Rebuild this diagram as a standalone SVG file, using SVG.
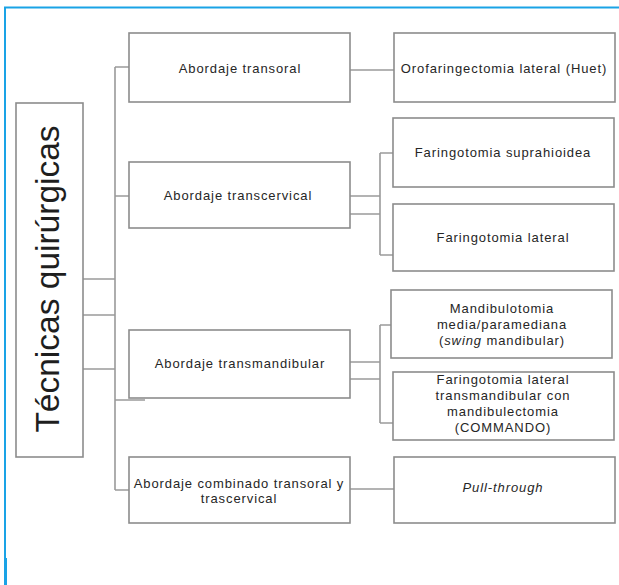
<svg xmlns="http://www.w3.org/2000/svg" width="619" height="585" viewBox="0 0 619 585">
<style>
.box{fill:#fff;stroke:#8c8c8c;stroke-width:1.6}
.ln{stroke:#9a9a9a;stroke-width:1.6;fill:none}
.t{font-family:"Liberation Sans",Arial,sans-serif;font-size:13px;letter-spacing:0.9px;fill:#262626;text-anchor:middle}
.it{font-style:italic}
</style>
<rect width="619" height="585" fill="#fff"/>
<g id="frame">
<line x1="4" y1="7.5" x2="619" y2="7.5" stroke="#1aa3e6" stroke-width="2"/>
<line x1="5" y1="7" x2="5" y2="585" stroke="#1aa3e6" stroke-width="2"/>
<rect x="4" y="558" width="3" height="27" fill="#1aa3e6"/>
</g>
<g id="connectors">
<path class="ln" d="M115,67V490M115,67H129M115,196H129M115,400H145M115,490H129M83,279H115M83,315H115M83,369H115"/>
<path class="ln" d="M350,70H394"/>
<path class="ln" d="M350,196H380M350,214H380M380,153V255M380,153H393M380,255H393"/>
<path class="ln" d="M350,362H380M350,379H380M380,325V423M380,325H391M380,423H393"/>
<path class="ln" d="M350,489H394"/>
</g>
<g id="n-main">
<rect class="box" x="16" y="103" width="67" height="354"/>
<text transform="translate(59,279) rotate(-90)" font-family="Liberation Sans,Arial,sans-serif" font-size="33.5" fill="#1e1e1e" text-anchor="middle">Técnicas quirúrgicas</text>
</g>
<g id="n-transoral">
<rect class="box" x="129" y="33" width="221" height="69"/>
<text class="t" x="240" y="73">Abordaje transoral</text>
</g>
<g id="n-huet">
<rect class="box" x="394" y="33" width="221" height="69"/>
<text class="t" x="504" y="73" letter-spacing="1.1">Orofaringectomia lateral (Huet)</text>
</g>
<g id="n-transcervical">
<rect class="box" x="129" y="162" width="221" height="66"/>
<text class="t" x="238" y="200">Abordaje transcervical</text>
</g>
<g id="n-suprahioidea">
<rect class="box" x="393" y="118" width="221" height="69"/>
<text class="t" x="503" y="157">Faringotomia suprahioidea</text>
</g>
<g id="n-lateral">
<rect class="box" x="393" y="204" width="221" height="67"/>
<text class="t" x="503" y="242">Faringotomia lateral</text>
</g>
<g id="n-transmandibular">
<rect class="box" x="129" y="330" width="221" height="68"/>
<text class="t" x="240" y="368">Abordaje transmandibular</text>
</g>
<g id="n-mandibulotomia">
<rect class="box" x="391" y="290" width="221" height="68"/>
<text class="t" x="502" y="313">Mandibulotomia</text>
<text class="t" x="502" y="329">media/paramediana</text>
<text class="t" x="502" y="345">(<tspan class="it">swing</tspan> mandibular)</text>
</g>
<g id="n-commando">
<rect class="box" x="393" y="372" width="221" height="68"/>
<text class="t" x="503" y="384">Faringotomia lateral</text>
<text class="t" x="503" y="400">transmandibular con</text>
<text class="t" x="503" y="416">mandibulectomia</text>
<text class="t" x="503" y="432">(COMMANDO)</text>
</g>
<g id="n-combinado">
<rect class="box" x="129" y="457" width="221" height="66"/>
<text class="t" x="239" y="488">Abordaje combinado transoral y</text>
<text class="t" x="239" y="503">trascervical</text>
</g>
<g id="n-pull">
<rect class="box" x="394" y="457" width="221" height="66"/>
<text class="t it" x="503" y="492">Pull-through</text>
</g>
</svg>
